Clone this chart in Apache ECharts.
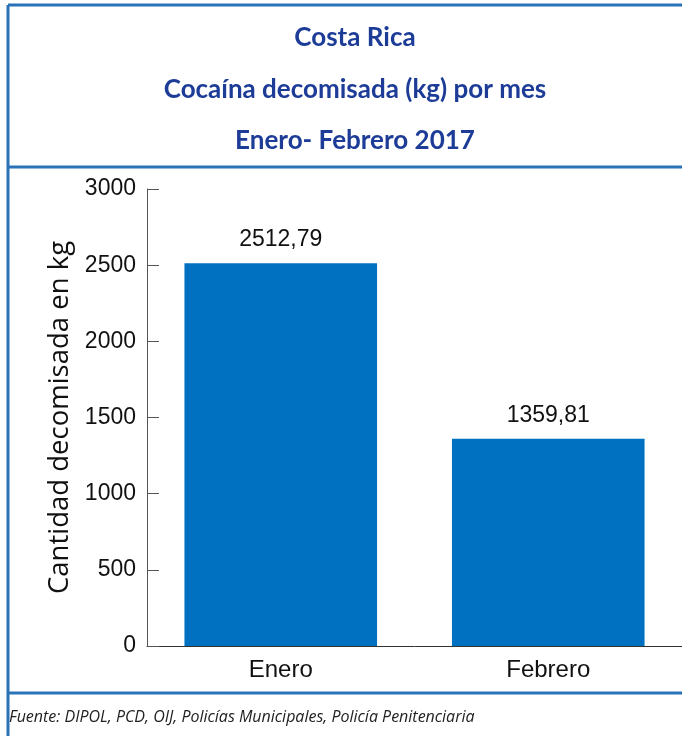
<!DOCTYPE html>
<html>
<head>
<meta charset="utf-8">
<script src="https://cdn.jsdelivr.net/npm/echarts@6/dist/echarts.min.js"></script>
<style>
  html, body { margin: 0; padding: 0; background: #fff; }
  #chart { width: 682px; height: 736px; }
</style>
</head>
<body>
<div id="chart"></div>
<script>
const months = ['Enero', 'Febrero'];
const cocaineKg = [2512.79, 1359.81];
const yTicks = [0, 500, 1000, 1500, 2000, 2500, 3000];

window.addEventListener('load', function () {
  const chart = echarts.init(document.getElementById('chart'));
  const frameColor = '#2A72B8';
  const numFont = '"Liberation Sans", Arial, sans-serif';

  const option = {
    backgroundColor: '#fff',
    animation: false,
    title: {
      text: 'Costa Rica\nCocaína decomisada (kg) por mes\nEnero- Febrero 2017',
      left: 350,
      top: 7,
      textAlign: 'center',
      textStyle: {
        fontFamily: 'Lato, sans-serif',
        fontWeight: 'bold',
        fontSize: 26,
        lineHeight: 51.5,
        color: '#1D3C98'
      }
    },
    grid: { left: 147, top: 189, width: 538, height: 457 },
    xAxis: {
      type: 'category',
      data: months,
      axisLine: { lineStyle: { color: '#333', width: 1 } },
      axisTick: { inside: true, length: 12, lineStyle: { color: '#333' } },
      axisLabel: { margin: 12, fontFamily: numFont, fontSize: 24, color: '#111' }
    },
    yAxis: {
      type: 'value',
      min: yTicks[0],
      max: yTicks[yTicks.length - 1],
      interval: 500,
      name: 'Cantidad decomisada en kg',
      nameLocation: 'middle',
      nameGap: 63,
      nameTextStyle: { fontFamily: '"Open Sans", sans-serif', fontSize: 27.5, color: '#111' },
      axisLine: { show: true, lineStyle: { color: '#555', width: 1 } },
      axisTick: { show: true, inside: true, length: 12, lineStyle: { color: '#555' } },
      splitLine: { show: false },
      axisLabel: {
        margin: 11,
        fontFamily: numFont,
        fontSize: 23,
        color: '#111',
        formatter: function (v) { return String(v); }
      }
    },
    series: [{
      type: 'bar',
      data: cocaineKg,
      barCategoryGap: '28%',
      itemStyle: { color: '#0070C0' },
      label: {
        show: true,
        position: 'top',
        distance: 12,
        fontFamily: numFont,
        fontSize: 23,
        color: '#111',
        formatter: function (p) { return p.value.toFixed(2).replace('.', ','); }
      }
    }],
    graphic: [
      { type: 'line', shape: { x1: 8, y1: 5, x2: 682, y2: 5 }, style: { stroke: frameColor, lineWidth: 3 } },
      { type: 'line', shape: { x1: 8, y1: 5, x2: 8, y2: 736 }, style: { stroke: frameColor, lineWidth: 3 } },
      { type: 'line', shape: { x1: 8, y1: 167, x2: 682, y2: 167 }, style: { stroke: frameColor, lineWidth: 3 } },
      { type: 'line', shape: { x1: 8, y1: 693, x2: 682, y2: 693 }, style: { stroke: frameColor, lineWidth: 3 } },
      {
        type: 'text', left: 9, top: 709,
        style: {
          text: 'Fuente: DIPOL, PCD, OIJ, Policías Municipales, Policía Penitenciaria',
          font: 'italic 16px "Open Sans", sans-serif',
          fill: '#222'
        }
      }
    ]
  };

  chart.setOption(option);
  window.addEventListener('resize', function () { chart.resize(); });
});
</script>
</body>
</html>
